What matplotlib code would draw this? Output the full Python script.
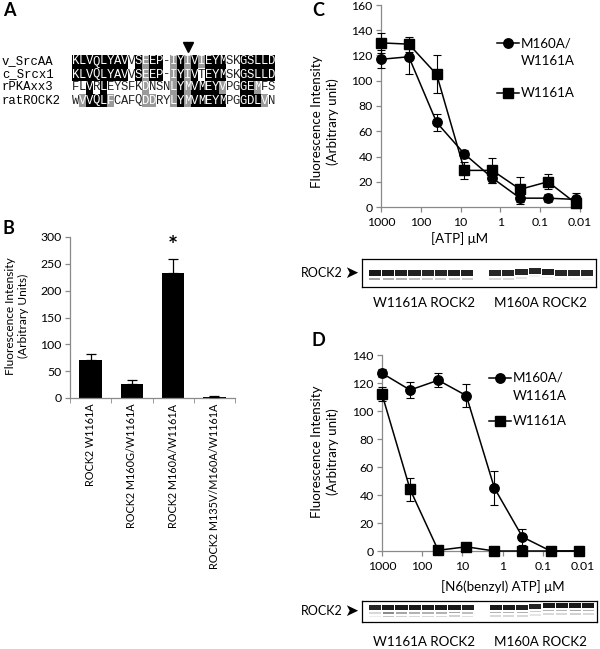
import numpy as np
import matplotlib
matplotlib.use("Agg")
import matplotlib.pyplot as plt
from matplotlib.patches import Rectangle
from matplotlib.ticker import NullLocator

plt.rcParams['font.family'] = ['Lato', 'DejaVu Sans']

# -----------------------------
# 1. Data
# -----------------------------
# A: alignment. shading: B = identical (black), G = similar (grey), W = none
seq_names = ["v_SrcAA", "c_Srcx1", "rPKAxx3", "ratROCK2"]
seq_rows = ["KLVQLYAVVSEEP-IYIVIEYMSKGSLLD",
            "KLVQLYAVVSEEP-IYIVTEYMSKGSLLD",
            "FLVRLEYSFKDNSNLYMVMEYVPGGEMFS",
            "WVVQLFCAFQDDRYLYMVMEYMPGGDLVN"]
seq_shade = ["BBBBBBBBWBGBBWGBGBGBBBWWBBBBB",
             "BBBBBBBBWBGBBWGBGBWBBBWWBBBBB",
             "WWBWBWWWWWGWWWGBGBBBBGWWBBGWW",
             "WGBBBGWWWWGGWWGBGBBBBBWWBBBGW"]
marked_col = 16

# B: bar chart
b_labels = ["ROCK2 W1161A", "ROCK2 M160G/W1161A",
            "ROCK2 M160A/W1161A", "ROCK2 M135V/M160A/W1161A"]
b_values = [70, 27, 232, 1]
b_err = [12, 6, 27, 2]

# C / D: dose curves (5-fold dilutions)
conc = [1000, 200, 40, 8, 1.6, 0.32, 0.064, 0.0128]
c_dbl = [117, 119, 67, 42, 23, 7, 7, 6]
c_dbl_err = [7, 14, 7, 3, 4, 5, 3, 5]
c_w = [130, 129, 105, 29, 29, 14, 20, 3]
c_w_err = [8, 6, 15, 7, 10, 10, 6, 4]
d_dbl = [127, 115, 122, 111, 45, 10, 0, 0]
d_dbl_err = [3, 6, 5, 8, 12, 6, 0, 0]
d_w = [112, 44, 0.5, 3, 0, 0, 0, 0]
d_w_err = [5, 8, 0, 0, 0, 0, 0, 0]
x_ticks = [1000, 100, 10, 1, 0.1, 0.01]
x_ticklabels = ["1000", "100", "10", "1", "0.1", "0.01"]

# blots: band darkness and vertical shift per lane (8 W1161A, 8 M160A)
blot_c_band = [0.9, 0.9, 0.88, 0.88, 0.85, 0.85, 0.88, 0.88,
               0.85, 0.85, 0.85, 0.85, 0.88, 0.85, 0.85, 0.85]
blot_c_shift = [0, 0, 0, 0, 0, 0, 0, 0,
                0, 0, -0.03, -0.08, -0.04, 0, 0, 0]
blot_c_faint = [0.35, 0.3, 0.3, 0.25, 0.2, 0.2, 0.2, 0.2,
                0.15, 0.15, 0.1, 0.05, 0.05, 0.05, 0.05, 0.05]
blot_d_band = [0.85, 0.9, 0.9, 0.9, 0.9, 0.9, 0.9, 0.88,
               0.9, 0.9, 0.88, 0.85, 0.9, 0.9, 0.9, 0.9]
blot_d_shift = [0.02, 0.02, 0.02, 0.02, 0.02, 0.02, 0.0, 0.02,
                0.0, 0.0, 0.0, -0.06, -0.1, -0.1, -0.1, -0.1]
blot_d_faint = [0.15, 0.45, 0.35, 0.3, 0.3, 0.3, 0.35, 0.25,
                0.3, 0.3, 0.3, 0.2, 0.3, 0.3, 0.35, 0.3]

W, H = 600, 649
fig = plt.figure(figsize=(6, 6.49), dpi=100)


def px_rect(x0, y0, x1, y1):
    return [x0 / W, 1 - y1 / H, (x1 - x0) / W, (y1 - y0) / H]


def excel_axes(ax, labelsize=8.5):
    for s in ['top', 'right']:
        ax.spines[s].set_visible(False)
    for s in ['left', 'bottom']:
        ax.spines[s].set_color('#8a8a8a')
        ax.spines[s].set_linewidth(0.9)
    ax.tick_params(direction='out', length=3.5, width=0.9, color='#8a8a8a',
                   labelsize=labelsize, pad=2.5)


# overlay for free text, panel letters, alignment, legend keys
ov = fig.add_axes([0, 0, 1, 1])
ov.set_xlim(0, W)
ov.set_ylim(H, 0)
ov.axis('off')
ov.set_zorder(5)
ov.patch.set_visible(False)

# -----------------------------
# 2. Panel A: alignment
# -----------------------------
cw, rh, x_seq, y_row0 = 7.0, 13.0, 72.0, 61.5
mono = dict(family='Liberation Mono', fontsize=8.8, ha='center', va='center')
for r, (name, seq, shade) in enumerate(zip(seq_names, seq_rows, seq_shade)):
    yc = y_row0 + r * rh
    ov.text(2, yc, name, family='Liberation Mono', fontsize=8.8, ha='left', va='center')
    for c, (ch, sh) in enumerate(zip(seq, shade)):
        x0 = x_seq + c * cw
        if sh == 'B':
            ov.add_patch(Rectangle((x0, yc - rh / 2), cw, rh, color='black', lw=0))
            col = 'white'
        elif sh == 'G':
            ov.add_patch(Rectangle((x0, yc - rh / 2), cw, rh, color='#9a9a9a', lw=0))
            col = 'white'
        else:
            col = '#222222'
        ov.text(x0 + cw / 2, yc, ch, color=col, **mono)
ov.plot(x_seq + marked_col * cw + cw / 2, 47, marker='v', color='black', ms=7)

# -----------------------------
# 3. Panel B: bars
# -----------------------------
axB = fig.add_axes(px_rect(70, 237, 235, 398))
xb = np.arange(len(b_values))
axB.bar(xb, b_values, width=0.55, color='black', zorder=2)
axB.errorbar(xb, b_values, yerr=[np.zeros(len(b_err)), b_err], fmt='none',
             ecolor='black', elinewidth=0.9, capsize=3.5, capthick=0.9, zorder=3)
axB.set_xlim(-0.5, len(b_values) - 0.5)
axB.set_ylim(0, 300)
axB.set_yticks(range(0, 301, 50))
excel_axes(axB, 8.8)
axB.set_xticks(xb)
axB.set_xticklabels(b_labels, rotation=90, ha='center', va='top', fontsize=7.8)
axB.tick_params(axis='x', length=0, pad=4)
axB.set_xticks(np.arange(len(b_values) + 1) - 0.5, minor=True)
axB.tick_params(axis='x', which='minor', length=3.5, direction='out', color='#8a8a8a')
axB.text(2, 282, '*', ha='center', va='center', fontsize=17, fontweight='bold')
fig.text(17 / W, 1 - 316 / H, "Fluorescence Intensity\n(Arbitrary Units)", rotation=90,
         ha='center', va='center', fontsize=8.6, linespacing=1.25)

# -----------------------------
# 4. Panels C and D: dose curves
# -----------------------------
def dose_panel(box, dbl, dbl_err, w, w_err, ymax):
    ax = fig.add_axes(px_rect(*box))
    ax.set_xscale('log')
    for y, e, m in [(dbl, dbl_err, 'o'), (w, w_err, 's')]:
        eb = ax.errorbar(conc, y, yerr=e, color='black', marker=m, ms=6.8, lw=1.1,
                         elinewidth=0.8, capsize=3, capthick=0.8, zorder=3)
        eb[0].set_clip_on(False)
        for a in eb[1]:
            a.set_clip_on(False)
        for a in eb[2]:
            a.set_clip_on(False)
    ax.set_xlim(1000, 0.01)
    ax.set_ylim(0, ymax)
    ax.set_yticks(range(0, ymax + 1, 20))
    ax.set_xticks(x_ticks)
    ax.set_xticklabels(x_ticklabels)
    ax.xaxis.set_minor_locator(NullLocator())
    excel_axes(ax, 8.8)
    ax.tick_params(axis='x', pad=4)
    return ax


axC = dose_panel((381, 5, 580, 207), c_dbl, c_dbl_err, c_w, c_w_err, 160)
axD = dose_panel((382, 355, 583, 551), d_dbl, d_dbl_err, d_w, d_w_err, 140)

for yc in [122, 452]:
    ov.text(325, yc, "Fluorescence Intensity\n(Arbitrary unit)", rotation=90,
            ha='center', va='center', fontsize=9.6, linespacing=1.35)
ov.text(460, 239, "[ATP] \u03bcM", ha='center', va='center', fontsize=9.6)
ov.text(503, 587, "[N6(benzyl) ATP] \u03bcM", ha='center', va='center', fontsize=9.6)


def legend_keys(xl, xm, xt, y_circ, y_sq):
    for y, m in [(y_circ, 'o'), (y_sq, 's')]:
        ov.plot([xl, xl + 22], [y, y], color='black', lw=1.1)
        ov.plot(xm, y, marker=m, color='black', ms=6.8)
    ov.text(xt, y_circ, "M160A/", fontsize=9.6, va='center', ha='left')
    ov.text(xt, y_circ + 18, "W1161A", fontsize=9.6, va='center', ha='left')
    ov.text(xt, y_sq, "W1161A", fontsize=9.6, va='center', ha='left')


legend_keys(497, 508, 521, 43, 93)
legend_keys(489, 500, 513, 378, 421)

# -----------------------------
# 5. Blots
# -----------------------------
def blot(box, bands, shifts, faint, band_y, band_h, faint_y):
    ax = fig.add_axes(px_rect(*box))
    lanes = np.r_[np.arange(8), np.arange(8) + 9.1]
    ax.set_xlim(-0.98, 16.75)
    ax.set_ylim(1, 0)
    for x, d, s, f in zip(lanes, bands, shifts, faint):
        ax.add_patch(Rectangle((x - 0.46, band_y + s - band_h / 2), 0.92, band_h,
                               color=str(1 - d), lw=0))
        for k, fy in enumerate(faint_y):
            ax.add_patch(Rectangle((x - 0.42, fy + s - 0.035), 0.84, 0.07,
                                   color='black', alpha=f / (k + 1), lw=0))
    ax.set_xticks([])
    ax.set_yticks([])
    for sp in ax.spines.values():
        sp.set_color('black')
        sp.set_linewidth(0.9)
    return ax


blot((362, 259, 596, 287), blot_c_band, blot_c_shift, blot_c_faint, 0.5, 0.2, [0.7])
blot((362, 601, 597, 622), blot_d_band, blot_d_shift, blot_d_faint, 0.3, 0.24, [0.55, 0.72])

for yb, yl in [(273, 303), (611, 642)]:
    ov.text(301, yb, "ROCK2", fontsize=9, ha='left', va='center')
    ov.text(344, yb, "\u27a4", family='DejaVu Sans', fontsize=12, ha='left', va='center')
    ov.text(424, yl, "W1161A ROCK2", fontsize=9.6, ha='center', va='center')
    ov.text(540, yl, "M160A ROCK2", fontsize=9.6, ha='center', va='center')

# panel letters
for lab, x, y in [("A", 9, 11), ("B", 8, 228), ("C", 318, 11), ("D", 318, 341)]:
    ov.text(x, y, lab, fontsize=13, fontweight='bold', ha='center', va='center')

fig.savefig("out.png", dpi=100)
